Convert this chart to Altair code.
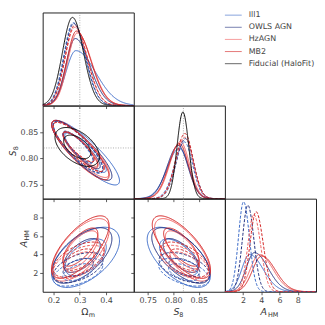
import numpy as np
import pandas as pd
import altair as alt

# ---------------- data ----------------
models = ["Ill1", "OWLS AGN", "HzAGN", "MB2", "Fiducial (HaloFit)"]
colors = ["#3767c6", "#1d2c7c", "#ef5b5b", "#d11f1f", "#000000"]
styles = ["solid", "dashed"]

chain_model = ["Ill1", "OWLS AGN", "HzAGN", "MB2",
               "Ill1", "OWLS AGN", "HzAGN", "MB2", "Fiducial (HaloFit)"]
chain_style = ["solid", "solid", "solid", "solid",
               "dashed", "dashed", "dashed", "dashed", "solid"]

# 1D marginals: mode, left width, right width, peak height (fraction of panel)
om_mode = [0.285, 0.283, 0.290, 0.287, 0.275, 0.277, 0.280, 0.280, 0.272]
om_wl = [0.038, 0.036, 0.036, 0.036, 0.036, 0.036, 0.036, 0.036, 0.038]
om_wr = [0.075, 0.055, 0.055, 0.055, 0.045, 0.045, 0.048, 0.048, 0.042]
om_peak = [0.59, 0.72, 0.78, 0.80, 0.89, 0.88, 0.84, 0.86, 0.947]

s8_mode = [0.812, 0.810, 0.814, 0.812, 0.822, 0.824, 0.823, 0.823, 0.819]
s8_wl = [0.024, 0.022, 0.021, 0.021, 0.019, 0.018, 0.018, 0.018, 0.0115]
s8_wr = [0.019, 0.019, 0.018, 0.018, 0.016, 0.016, 0.016, 0.016, 0.0115]
s8_peak = [0.54, 0.57, 0.61, 0.59, 0.61, 0.645, 0.66, 0.70, 0.93]

a_mode = [2.7, 3.24, 3.78, 4.04, 2.05, 2.52, 3.17, 3.42]
a_wl = [0.85, 0.9, 1.0, 1.0, 0.56, 0.6, 0.65, 0.66]
a_wr = [1.5, 1.5, 1.5, 1.5, 0.64, 0.66, 0.75, 0.78]
a_peak = [0.40, 0.42, 0.40, 0.385, 0.967, 0.93, 0.83, 0.86]

# 2D contours: centre, width, correlation of each chain
om_mean = [0.322, 0.308, 0.303, 0.302, 0.293, 0.294, 0.296, 0.296, 0.290]
om_sd = [0.052, 0.046, 0.044, 0.044, 0.038, 0.038, 0.039, 0.039, 0.034]
s8_mean = [0.811, 0.815, 0.818, 0.816, 0.821, 0.822, 0.822, 0.822, 0.822]
s8_sd = [0.025, 0.023, 0.022, 0.023, 0.020, 0.020, 0.019, 0.019, 0.015]
a_mean = [3.7, 3.9, 4.5, 4.8, 2.1, 2.6, 3.2, 3.45]
a_sd = [1.3, 1.2, 1.35, 1.35, 0.6, 0.65, 0.72, 0.76]
rho_om_s8 = [-0.87, -0.86, -0.86, -0.86, -0.85, -0.85, -0.85, -0.85, -0.5]
rho_om_a = [0.55, 0.6, 0.65, 0.7, 0.5, 0.5, 0.55, 0.55]
rho_s8_a = [-0.6, -0.65, -0.7, -0.72, -0.5, -0.5, -0.55, -0.55]

om_ticks = [0.2, 0.3, 0.4]
s8_ticks = [0.75, 0.80, 0.85]
a_ticks = [2, 4, 6, 8]
om_dom = [0.1585, 0.5057]
s8_dom = [0.7225, 0.9015]
a_dom = [0, 10]
fid_om = [0.3]
fid_s8 = [0.82]

title_main = ["Ω", "S", "A"]
title_sub = ["m", "8", "HM"]

# ---------------- helpers ----------------
W, H = 92, 94
FONT = "DejaVu Sans"
levels = [np.sqrt(2.30), np.sqrt(6.18)]


def marg_df(dom, modes, wl, wr, peaks):
    grid = np.linspace(dom[0], dom[1], 300)
    out = []
    for c in range(len(modes)):
        w = np.where(grid < modes[c], wl[c], wr[c])
        y = peaks[c] * np.exp(-0.5 * ((grid - modes[c]) / w) ** 2)
        out.append(pd.DataFrame({"x": grid, "y": y, "key": str(c),
                                 "model": chain_model[c], "style": chain_style[c],
                                 "i": np.arange(len(grid))}))
    return pd.concat(out, ignore_index=True)


def ell_df(mx, sx, my, sy, rho):
    t = np.linspace(0, 2 * np.pi, 121)
    out = []
    for c in range(len(rho)):
        for li, k in enumerate(levels):
            x = mx[c] + k * sx[c] * np.cos(t)
            y = my[c] + k * sy[c] * (rho[c] * np.cos(t) + np.sqrt(1 - rho[c] ** 2) * np.sin(t))
            out.append(pd.DataFrame({"x": x, "y": y, "key": f"{c}-{li}",
                                     "model": chain_model[c], "style": chain_style[c],
                                     "i": np.arange(len(t))}))
    return pd.concat(out, ignore_index=True)


def axis(values, labels, fmt):
    return alt.Axis(values=values, labels=labels, format=fmt, title=None,
                    ticks=True, tickSize=3, tickWidth=0.8, tickColor="#333",
                    domain=False, grid=False, labelFont=FONT, labelFontSize=8,
                    labelColor="#444", labelPadding=2, labelOverlap=False,
                    labelFlush=False)


def X(dom, ax):
    return alt.X("x:Q", scale=alt.Scale(domain=dom, nice=False, zero=False), axis=ax)


def Y(dom, ax):
    return alt.Y("y:Q", scale=alt.Scale(domain=dom, nice=False, zero=False), axis=ax)


color_enc = alt.Color("model:N", scale=alt.Scale(domain=models, range=colors), legend=None)
dash_enc = alt.StrokeDash("style:N", scale=alt.Scale(domain=styles, range=[[1, 0], [3, 1.6]]), legend=None)
width_enc = alt.StrokeWidth("model:N", scale=alt.Scale(domain=models, range=[1, 1, 1, 1, 1.3]), legend=None)


def curves(df, xd, yd, xa, ya):
    return alt.Chart(df).mark_line(clip=True).encode(
        x=X(xd, xa), y=Y(yd, ya), color=color_enc, strokeDash=dash_enc,
        strokeWidth=width_enc, detail="key:N", order="i:Q")


def vrule(vals, xd, xa):
    return alt.Chart(pd.DataFrame({"x": vals})).mark_rule(
        color="#888", strokeWidth=0.7, strokeDash=[1, 1.5]).encode(x=X(xd, xa))


def hrule(vals, yd, ya):
    return alt.Chart(pd.DataFrame({"y": vals})).mark_rule(
        color="#888", strokeWidth=0.7, strokeDash=[1, 1.5]).encode(y=Y(yd, ya))


def btitle(idx, x0):
    d = pd.DataFrame({"m": [title_main[idx]], "s": [title_sub[idx]]})
    style = "italic" if idx > 0 else "normal"
    main = alt.Chart(d).mark_text(align="left", baseline="alphabetic", font=FONT,
                                  fontSize=9.5, fontStyle=style, color="#333").encode(
        x=alt.value(x0), y=alt.value(H + 23), text="m:N")
    sub = alt.Chart(d).mark_text(align="left", baseline="alphabetic", font=FONT,
                                 fontSize=6.5, color="#333").encode(
        x=alt.value(x0 + (7.5 if idx != 1 else 6)), y=alt.value(H + 25.5), text="s:N")
    return [main, sub]


def ltitle(idx, xb, yc, fs):
    d = pd.DataFrame({"m": [title_main[idx]], "s": [title_sub[idx]]})
    main = alt.Chart(d).mark_text(align="left", baseline="alphabetic", font=FONT,
                                  fontSize=fs, fontStyle="italic", angle=270, color="#333").encode(
        x=alt.value(xb), y=alt.value(yc), text="m:N")
    sub = alt.Chart(d).mark_text(align="left", baseline="alphabetic", font=FONT,
                                 fontSize=6.5, angle=270, color="#333").encode(
        x=alt.value(xb + 2.5), y=alt.value(yc - 0.7 * fs), text="s:N")
    return [main, sub]


ax_om_lab = axis(om_ticks, True, ".1f")
ax_om = axis(om_ticks, False, ".1f")
ax_s8_lab = axis(s8_ticks, True, ".2f")
ax_s8 = axis(s8_ticks, False, ".2f")
ax_a_lab = axis(a_ticks, True, "d")
ax_a = axis(a_ticks, False, "d")

df_om1 = marg_df(om_dom, om_mode, om_wl, om_wr, om_peak)
df_s81 = marg_df(s8_dom, s8_mode, s8_wl, s8_wr, s8_peak)
df_a1 = marg_df(a_dom, a_mode, a_wl, a_wr, a_peak)
df_om_s8 = ell_df(om_mean, om_sd, s8_mean, s8_sd, rho_om_s8)
df_om_a = ell_df(om_mean, om_sd, a_mean, a_sd, rho_om_a)
df_s8_a = ell_df(s8_mean, s8_sd, a_mean, a_sd, rho_s8_a)

p11 = alt.layer(vrule(fid_om, om_dom, ax_om),
                curves(df_om1, om_dom, [0, 1], ax_om, None)).properties(width=W, height=H)

p21 = alt.layer(vrule(fid_om, om_dom, ax_om), hrule(fid_s8, s8_dom, ax_s8_lab),
                curves(df_om_s8, om_dom, s8_dom, ax_om, ax_s8_lab),
                *ltitle(1, -27, H / 2 + 4, 8.5)).properties(width=W, height=H)

p22 = alt.layer(vrule(fid_s8, s8_dom, ax_s8),
                curves(df_s81, s8_dom, [0, 1], ax_s8, None)).properties(width=W, height=H)

p31 = alt.layer(vrule(fid_om, om_dom, ax_om_lab),
                curves(df_om_a, om_dom, a_dom, ax_om_lab, ax_a_lab),
                *ltitle(2, -16, H / 2 + 2, 9.5), *btitle(0, 39)).properties(width=W, height=H)

p32 = alt.layer(vrule(fid_s8, s8_dom, ax_s8_lab),
                curves(df_s8_a, s8_dom, a_dom, ax_s8_lab, ax_a),
                *btitle(1, 40)).properties(width=W, height=H)

p33 = alt.layer(curves(df_a1, a_dom, [0, 1], ax_a_lab, None),
                *btitle(2, 36)).properties(width=W, height=H)

blank = pd.DataFrame({"x": [0.0], "y": [0.0]})


def empty():
    return alt.Chart(blank).mark_point(opacity=0).encode(
        x=alt.X("x:Q", axis=None), y=alt.Y("y:Q", axis=None)).properties(
        width=W, height=H, view=alt.ViewBackground(stroke="transparent"))


leg_df = pd.DataFrame({"model": models, "row": list(range(len(models)))})
leg_y = alt.Y("row:Q", scale=alt.Scale(domain=[-0.22, 7.45], reverse=True, nice=False, zero=False), axis=None)
leg_lines = alt.Chart(leg_df).mark_rule(opacity=0.6).encode(
    x=alt.value(0), x2=alt.value(17), y=leg_y, color=color_enc,
    strokeWidth=alt.StrokeWidth("model:N", scale=alt.Scale(domain=models, range=[1.5, 1.5, 1.5, 1.5, 2.2]), legend=None))
leg_text = alt.Chart(leg_df).mark_text(align="left", baseline="middle", font=FONT,
                                        fontSize=8, color="#444").encode(
    x=alt.value(24), y=leg_y, text="model:N")
legend = alt.layer(leg_lines, leg_text).properties(
    width=W, height=H, view=alt.ViewBackground(stroke="transparent"))

chart = alt.concat(p11, empty(), legend,
                   p21, p22, empty(),
                   p31, p32, p33,
                   columns=3, spacing=0, bounds="flush").properties(
    padding={"left": 0, "top": 1, "right": 0, "bottom": 0}
).configure_view(stroke="#222", strokeWidth=1)

chart.save("out.html", embed_options={"renderer": "svg", "actions": False})
